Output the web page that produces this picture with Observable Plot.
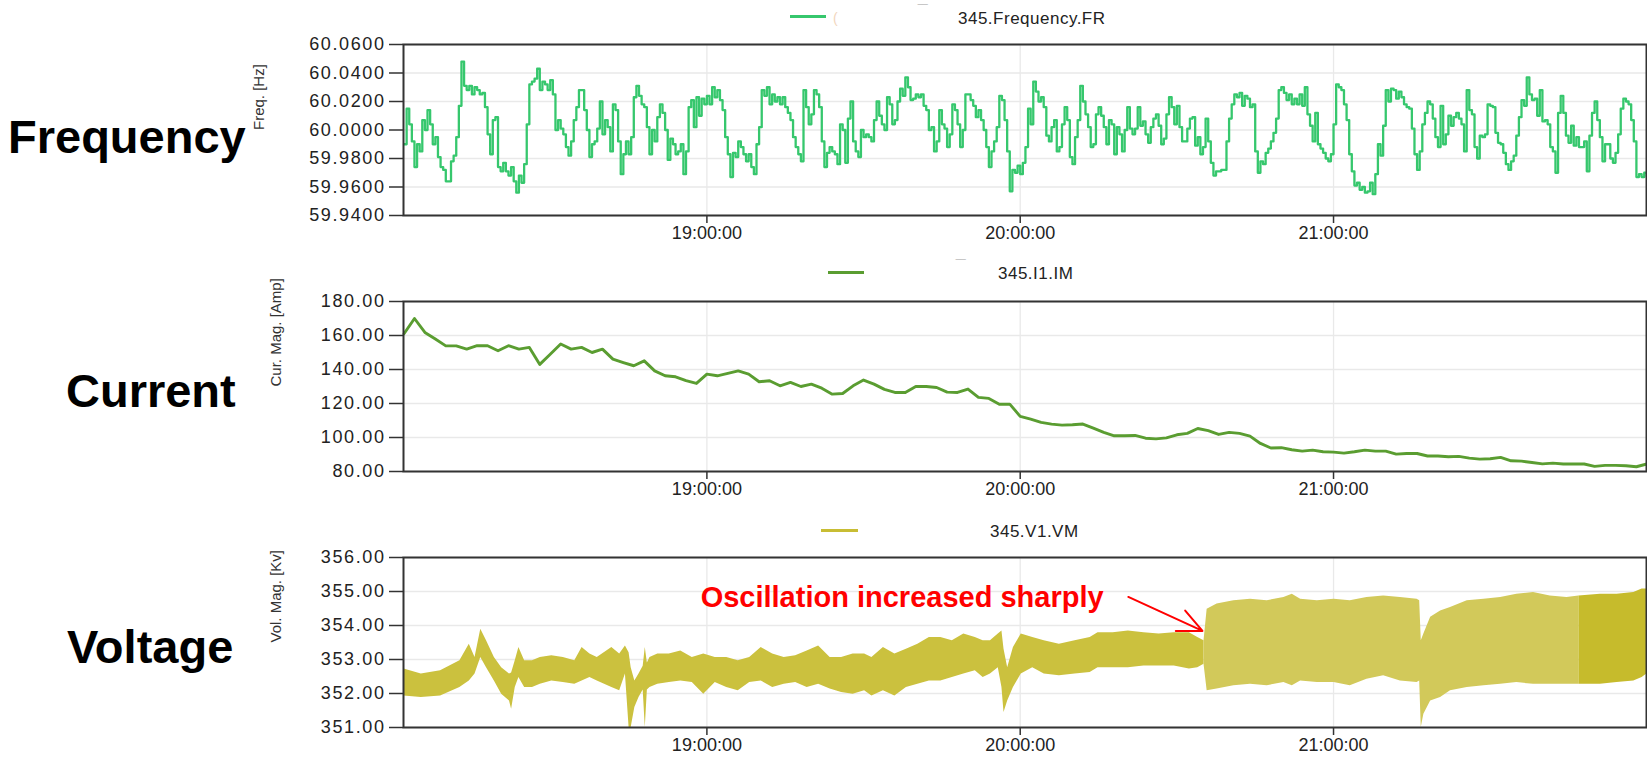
<!DOCTYPE html>
<html><head><meta charset="utf-8">
<script src="https://cdn.jsdelivr.net/npm/d3@7"></script>
<script src="https://cdn.jsdelivr.net/npm/@observablehq/plot@0.6"></script>
<style>
body{margin:0;background:#fff;font-family:"Liberation Sans",Arial,sans-serif;}
#wrap{position:relative;width:1647px;height:757px;overflow:hidden;background:#fff;}
.panel{position:absolute;left:0;}
.big{position:absolute;font-weight:bold;font-size:47px;color:#000;line-height:47px;white-space:nowrap;}
.leg{position:absolute;font-size:17px;line-height:17px;color:#222;white-space:nowrap;letter-spacing:0.5px;}
.faint{position:absolute;font-size:14px;line-height:14px;white-space:nowrap;}
.swatch{position:absolute;height:3px;}
svg.p [aria-label="y-axis tick label"]{letter-spacing:1.6px;}
</style></head><body><div id="wrap"></div>
<script>
// ---------------- DATA ----------------
const xTickLabels = ["19:00:00", "20:00:00", "21:00:00"];
const xAxisStart = "18:01:54";
const xAxisEnd = "21:59:56";

const panelTitles = ["Frequency", "Current", "Voltage"];
const seriesNames = ["345.Frequency.FR", "345.I1.IM", "345.V1.VM"];
const axisTitles = ["Freq. [Hz]", "Cur. Mag. [Amp]", "Vol. Mag. [Kv]"];

const freqTickLabels = ["59.9400", "59.9600", "59.9800", "60.0000", "60.0200", "60.0400", "60.0600"];
const currentTickLabels = ["80.00", "100.00", "120.00", "140.00", "160.00", "180.00"];
const voltTickLabels = ["351.00", "352.00", "353.00", "354.00", "355.00", "356.00"];

// Frequency [Hz], one reading every 30 s from 18:02:00
const freqStart = "18:02:00";
const freqStepSeconds = 30;
const freqValues = [
59.990,60.015,60.004,59.992,59.974,59.990,59.985,60.007,60.000,60.014,
60.004,59.990,59.995,59.981,59.974,59.972,59.964,59.964,59.978,59.982,
59.995,60.017,60.048,60.031,60.028,60.031,60.025,60.030,60.028,60.025,
60.026,60.016,59.997,59.983,60.007,60.009,59.974,59.971,59.977,59.971,
59.968,59.974,59.964,59.956,59.968,59.963,59.976,60.004,60.032,60.034,
60.036,60.043,60.028,60.034,60.032,60.028,60.035,60.025,60.000,60.007,
60.001,59.997,59.988,59.982,59.992,60.007,60.016,60.028,60.028,60.014,
60.000,59.981,59.990,59.992,60.001,60.020,59.997,60.007,60.002,59.985,
60.018,60.014,59.992,59.969,59.983,59.992,59.983,59.995,60.023,60.031,
60.024,60.018,60.016,60.002,59.983,60.000,59.992,60.009,60.018,60.012,
60.000,59.979,59.994,59.990,59.983,59.985,59.990,59.969,59.985,60.016,
60.021,60.002,60.023,60.010,60.022,60.018,60.024,60.018,60.030,60.023,
60.028,60.021,60.014,59.995,59.983,59.967,59.984,59.981,59.992,59.988,
59.983,59.978,59.983,59.974,59.969,59.990,60.002,60.028,60.024,60.030,
60.018,60.025,60.020,60.023,60.018,60.023,60.016,60.012,60.007,59.995,
59.988,59.983,59.978,60.028,60.016,60.004,60.011,60.028,60.025,60.016,
59.992,59.974,59.984,59.988,59.985,59.983,59.976,60.004,60.000,59.977,
60.008,60.020,59.992,59.985,59.981,60.000,59.995,59.997,59.995,59.992,
60.007,60.020,60.010,60.004,60.000,60.023,60.018,60.004,60.007,60.020,
60.029,60.024,60.037,60.030,60.021,60.022,60.025,60.023,60.025,60.017,
60.014,60.000,60.002,59.985,59.992,60.014,60.004,60.001,59.988,59.997,
60.018,60.014,60.004,59.988,60.000,60.025,60.025,60.021,60.017,60.009,
60.014,60.007,60.000,59.988,59.974,59.985,59.992,60.002,60.024,60.021,
60.007,59.985,59.957,59.972,59.970,59.975,59.969,59.977,59.988,60.015,
60.004,60.034,60.027,60.020,60.023,60.016,59.996,59.992,60.002,60.007,
59.985,59.988,60.004,60.016,60.007,59.981,59.976,59.995,60.007,60.031,
60.020,60.011,60.002,59.988,59.990,60.011,60.016,60.010,60.002,59.990,
60.007,60.004,59.983,60.002,59.997,59.985,60.000,60.016,60.001,59.997,
60.001,60.016,60.003,60.006,59.997,59.991,60.002,60.008,60.011,60.003,
59.990,59.994,60.011,60.023,60.016,60.004,60.017,60.002,59.992,59.992,
60.001,60.008,60.009,59.989,59.995,59.983,59.988,60.008,59.992,59.977,
59.968,59.971,59.971,59.972,59.972,59.992,60.008,60.018,
60.025,60.023,60.026,60.017,60.024,60.022,60.016,60.018,59.985,59.970,
59.978,59.976,59.984,59.987,59.992,59.998,60.008,60.028,60.030,60.026,
60.021,60.025,60.018,60.022,60.018,60.025,60.017,60.030,60.011,60.003,
59.992,60.012,59.990,59.987,59.984,59.980,59.978,59.983,60.004,60.032,
60.030,60.028,60.018,60.007,59.983,59.971,59.961,59.963,59.958,59.960,
59.956,59.957,59.963,59.955,59.969,59.990,59.982,60.003,60.028,60.020,
60.029,60.028,60.022,60.027,60.023,60.018,60.016,60.015,60.001,59.983,
59.972,59.985,60.004,60.012,60.020,60.018,60.008,59.995,59.988,60.017,
59.990,59.997,60.010,60.003,60.009,60.012,60.008,60.004,59.985,60.028,
60.014,60.011,59.988,59.980,59.996,59.995,59.997,60.018,60.017,60.016,
59.998,59.991,59.990,59.984,59.976,59.972,59.978,59.982,59.996,60.009,
60.021,60.017,60.037,60.025,60.021,60.022,60.010,60.028,60.006,60.007,
60.004,59.988,59.985,59.970,60.012,60.024,60.012,59.996,59.991,60.003,
59.989,59.995,59.988,59.988,59.992,59.971,59.996,60.012,60.020,60.007,
59.995,59.978,59.990,59.990,59.980,59.977,59.984,59.997,60.015,60.022,
60.020,60.018,60.007,59.992,59.967,59.969,59.967,59.970,59.967
];

// Current magnitude [Amp], one reading every 2 min from 18:02:00
const currentStart = "18:02:00";
const currentStepSeconds = 120;
const currentValues = [
161,170,161.8,157.9,153.9,153.9,152,154,154,151,
154,152,153,143,149,155,152,153,150,152,
146.1,144.1,142.2,145.1,139.2,136.3,135.7,133.4,131.8,137.3,
136.3,137.7,139.2,137.3,132.8,133.4,130.4,132.4,130.0,131.4,
129.0,125.5,125.9,130.4,133.8,131.4,128.3,126.5,126.5,130.0,
130.0,129.4,126.7,126.5,128.5,123.6,123.0,119.6,119.6,112.4,
110.8,108.9,107.9,107.3,107.5,107.9,105.5,103.0,101.0,101.0,
101.2,99.6,99.2,99.8,101.6,102.4,105.3,104.0,101.8,103.0,
102.4,100.8,96.5,93.8,94.0,92.8,92.0,92.6,91.6,91.4,
90.8,91.6,92.6,92.0,92.0,90.2,90.6,90.6,89.1,89.1,
88.7,88.9,87.9,87.3,87.5,88.3,86.3,86.1,85.3,84.5,
84.9,84.4,84.4,84.4,83.0,83.6,83.6,83.4,82.8,84.4
];

// Voltage magnitude [kV]: envelope (low / high) of the oscillating trace
const voltOrigin = "18:00:00";
const voltMinutes = [2.0,5.3,9.0,12.7,14.5,15.6,16.7,17.8,19.3,20.7,
22.2,22.6,23.3,24.0,25.1,26.6,28.1,30.3,32.5,34.7,
36.1,37.6,39.0,41.8,43.3,44.4,45.1,45.5,46.2,47.0,
47.8,48.2,48.6,49.1,50.6,52.8,55.0,57.2,59.4,61.6,
63.8,66.0,68.2,70.4,72.6,74.8,77.0,79.2,81.4,83.6,
85.8,88.0,90.2,91.6,93.8,96.0,98.2,100.4,102.6,104.8,
107.0,109.2,111.4,112.9,114.3,115.8,116.5,116.9,117.6,118.7,
120.2,122.4,124.6,127.5,130.5,133.4,134.9,137.8,140.7,143.7,
146.6,149.5,152.4,154.0,155.2,155.8,157.7,160.9,164.1,167.3,
170.5,172.1,173.7,176.9,180.1,183.2,186.4,189.6,192.8,196.0,
196.5,196.8,197.3,198.6,200.5,202.4,205.6,208.8,212.0,215.1,
218.3,221.5,224.7,227.0,231.1,234.3,237.5,239.1,240.0];
const voltLow = [351.93,351.88,351.93,352.18,352.37,352.57,353.06,352.76,352.37,351.98,
351.78,351.54,352.18,352.47,352.18,352.18,352.27,352.37,352.32,352.27,
352.37,352.47,352.37,352.18,352.08,352.57,351.00,351.00,351.59,351.88,
352.10,351.00,352.10,352.18,352.27,352.32,352.37,352.32,351.98,352.32,
352.18,352.08,352.32,352.37,352.18,352.27,352.32,352.18,352.27,352.13,
352.03,351.98,352.08,351.93,352.08,351.93,352.18,352.27,352.37,352.37,
352.47,352.57,352.67,352.47,352.57,352.76,352.18,351.44,351.78,352.18,
352.57,352.76,352.57,352.52,352.57,352.62,352.76,352.76,352.76,352.81,
352.81,352.81,352.72,352.76,352.86,352.08,352.13,352.23,352.27,352.23,
352.32,352.23,352.37,352.32,352.32,352.23,352.42,352.52,352.37,352.32,
352.37,351.00,351.39,351.78,351.88,352.08,352.18,352.23,352.27,352.32,
352.27,352.27,352.27,352.27,352.27,352.32,352.37,352.47,352.57];
const voltHigh = [352.72,352.57,352.67,352.96,353.45,353.06,353.89,353.55,353.06,352.76,
352.57,352.60,352.96,353.35,352.96,352.96,353.06,353.11,353.06,352.96,
353.35,353.16,353.06,353.35,353.16,353.40,353.20,352.76,352.37,352.57,
352.80,353.35,352.90,353.06,353.16,353.16,353.25,353.06,353.16,353.06,
353.06,352.96,353.06,353.35,353.16,353.06,353.11,353.25,353.40,353.06,
353.06,353.16,353.16,353.06,353.35,353.16,353.30,353.45,353.65,353.65,
353.55,353.75,353.65,353.55,353.55,353.75,353.84,353.30,352.76,353.35,
353.75,353.65,353.55,353.45,353.55,353.65,353.79,353.79,353.84,353.79,
353.75,353.79,353.79,353.65,353.55,354.48,354.63,354.73,354.77,354.73,
354.82,354.92,354.77,354.73,354.77,354.73,354.82,354.87,354.82,354.77,
354.73,353.55,353.75,354.24,354.43,354.53,354.73,354.77,354.82,354.92,
354.97,354.87,354.82,354.87,354.92,354.92,354.97,355.07,355.07];
const voltOscillationStart = 155.2;  // minutes after origin
const voltDenseStart = 227.0;

// Annotation
const annoText = "Oscillation increased sharply";
const annoTime = "18:58:48", annoValue = 354.82;
const arrowFromTime = "20:20:42", arrowFromValue = 354.84;
const arrowToTime = "20:34:54", arrowToValue = 353.84;

// ---------------- HELPERS ----------------
const DAY = Date.UTC(2024, 0, 1);
function hms(s) { const [h, m, sec] = s.split(":").map(Number); return new Date(DAY + ((h * 60 + m) * 60 + sec) * 1000); }
const xDomain = [hms(xAxisStart), hms(xAxisEnd)];
const xTicks = xTickLabels.map(hms);
const FONT = "'Liberation Sans', Arial, sans-serif";

const freqData = freqValues.map((v, i) => ({t: new Date(+hms(freqStart) + i * freqStepSeconds * 1000), v}));
const currentData = currentValues.map((v, i) => ({t: new Date(+hms(currentStart) + i * currentStepSeconds * 1000), v}));
const voltData = voltMinutes.map((m, i) => ({m, t: new Date(+hms(voltOrigin) + m * 60000), lo: voltLow[i], hi: voltHigh[i]}));

function panel({height, mt, mb, yTicks, title, marks}) {
  const yt = yTicks.map(Number);
  return Plot.plot({
    className: "p",
    width: 1647, height,
    marginTop: mt, marginBottom: mb, marginLeft: 403, marginRight: 1,
    x: {type: "utc", domain: xDomain},
    y: {domain: [yt[0], yt[yt.length - 1]]},
    style: {fontFamily: FONT, fontSize: "18px", color: "#222", background: "transparent", overflow: "visible"},
    marks: [
      Plot.gridY(yt, {stroke: "#e9e9e9", strokeOpacity: 1, strokeWidth: 1.3}),
      Plot.gridX(xTicks, {stroke: "#e9e9e9", strokeOpacity: 1, strokeWidth: 1.3}),
      ...marks,
      Plot.axisY(yt, {tickSize: 14, tickPadding: 4, stroke: "#333", strokeWidth: 1.5, tickFormat: (d, i) => yTicks[i], label: null}),
      Plot.axisX(xTicks, {tickSize: 8, tickPadding: 3, stroke: "#333", strokeWidth: 1.5, tickFormat: (d, i) => xTickLabels[i], label: null}),
      Plot.frame({stroke: "#333", strokeWidth: 2}),
      Plot.text([title.text], {text: d => d, frameAnchor: "left", dx: title.dx, rotate: -90, fontSize: 15, fill: "#333"})
    ]
  });
}

const wrap = document.getElementById("wrap");
function place(node, top) { const d = document.createElement("div"); d.className = "panel"; d.style.top = top + "px"; d.appendChild(node); wrap.appendChild(d); }
function html(cls, css, text) { const d = document.createElement("div"); d.className = cls; Object.assign(d.style, css); if (text != null) d.textContent = text; wrap.appendChild(d); }

// Frequency
place(panel({
  height: 250, mt: 44, mb: 35, yTicks: freqTickLabels, title: {text: axisTitles[0], dx: -144},
  marks: [Plot.line(freqData, {x: "t", y: "v", stroke: "#36c76d", strokeWidth: 2.3, curve: "step-after"})]
}), 0);

// Current
place(panel({
  height: 250, mt: 51, mb: 29, yTicks: currentTickLabels, title: {text: axisTitles[1], dx: -127},
  marks: [Plot.line(currentData, {x: "t", y: "v", stroke: "#5a9d31", strokeWidth: 2.9})]
}), 250);

// Voltage
place(panel({
  height: 257, mt: 57, mb: 30, yTicks: voltTickLabels, title: {text: axisTitles[2], dx: -127},
  marks: [
    Plot.areaY(voltData.filter(d => d.m <= voltOscillationStart), {x: "t", y1: "lo", y2: "hi", fill: "#cbc13e"}),
    Plot.areaY(voltData.filter(d => d.m >= voltOscillationStart && d.m <= voltDenseStart), {x: "t", y1: "lo", y2: "hi", fill: "#d2c95a"}),
    Plot.areaY(voltData.filter(d => d.m >= voltDenseStart), {x: "t", y1: "lo", y2: "hi", fill: "#c6bb2c"}),
    Plot.text([annoText], {text: d => d, x: hms(annoTime), y: annoValue, textAnchor: "start", fill: "#ff0000", fontSize: 29, fontWeight: "bold"}),
    Plot.arrow([0], {x1: hms(arrowFromTime), y1: arrowFromValue, x2: hms(arrowToTime), y2: arrowToValue, stroke: "#ff0000", strokeWidth: 2, headLength: 20, headAngle: 50})
  ]
}), 500);

// Big panel titles
html("big", {left: "8px", top: "113px"}, panelTitles[0]);
html("big", {left: "66px", top: "367px"}, panelTitles[1]);
html("big", {left: "67px", top: "623px"}, panelTitles[2]);

// Legends
html("swatch", {left: "790px", top: "14.5px", width: "36px", background: "#36c76d"});
html("faint", {left: "833px", top: "11px", color: "#f2d6bd"}, "(");
html("faint", {left: "918px", top: "4px", color: "#c4c4c4"}, "‾‾");
html("leg", {left: "958px", top: "10px"}, seriesNames[0]);

html("swatch", {left: "828px", top: "271px", width: "36px", background: "#5a9d31"});
html("faint", {left: "956px", top: "259px", color: "#c4c4c4"}, "‾‾");
html("leg", {left: "998px", top: "265px"}, seriesNames[1]);

html("swatch", {left: "821px", top: "528.5px", width: "37px", background: "#c8bd34"});
html("leg", {left: "990px", top: "523px"}, seriesNames[2]);
</script></body></html>
